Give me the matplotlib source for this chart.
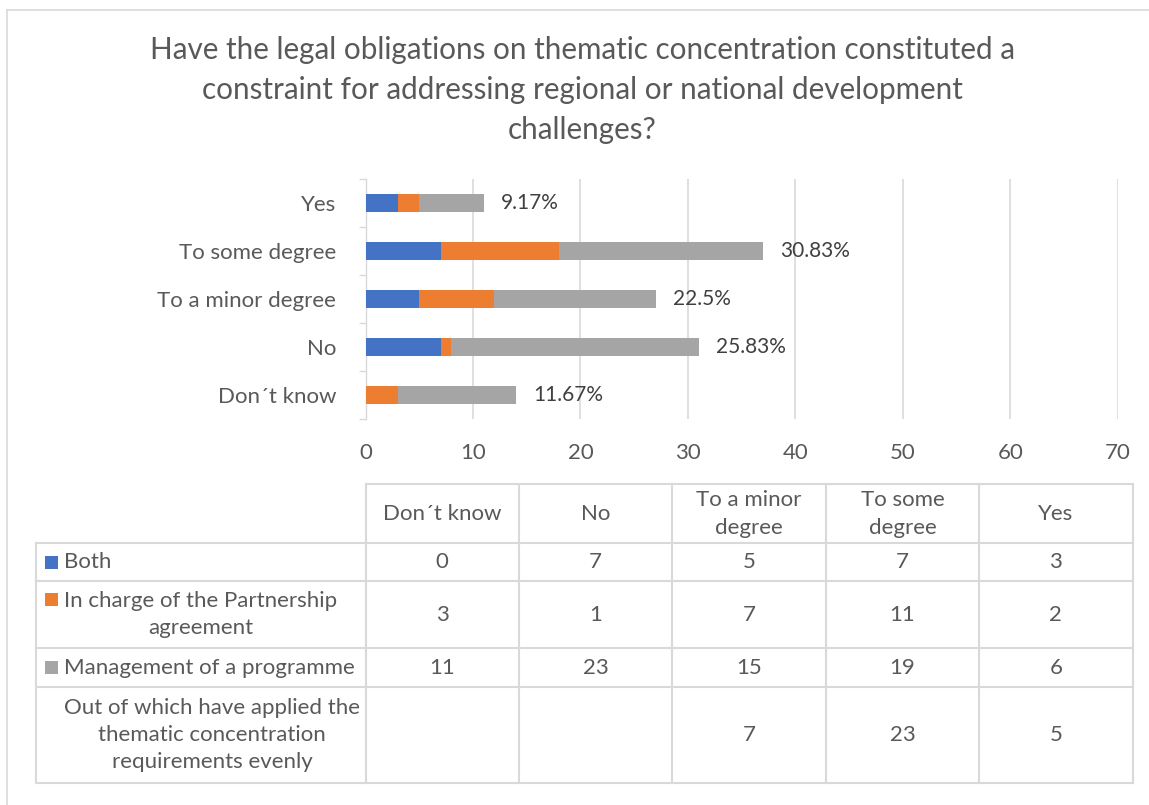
"""stacked bar chart with data table: thematic concentration survey"""

import matplotlib
matplotlib.use('Agg')
import matplotlib.pyplot as plt
from matplotlib.lines import Line2D
from matplotlib.patches import Rectangle

plt.rcParams['font.family'] = ['Lato', 'DejaVu Sans']

# data (bottom to top in the bar chart, left to right in the table)
categories = ['Don´t know', 'No', 'To a minor degree', 'To some degree', 'Yes']
header_labels = ['Don´t know', 'No', 'To a minor\ndegree', 'To some\ndegree', 'Yes']
both = [0, 7, 5, 7, 3]
partnership = [3, 1, 7, 11, 2]
management = [11, 23, 15, 19, 6]
applied_evenly = ['', '', 7, 23, 5]
pct_labels = ['11.67%', '25.83%', '22.5%', '30.83%', '9.17%']

series_names = ['Both', 'In charge of the Partnership\nagreement',
                'Management of a programme']
extra_row = 'Out of which have applied the\nthematic concentration\nrequirements evenly'
colors = ['#4472C4', '#ED7D31', '#A5A5A5']
TEXT = '#595959'
GRID = '#D9D9D9'
FS = 16

W, H = 1149, 805


def fx(px):
    """pixel x to figure fraction"""
    return px / W


def fy(py):
    """pixel y (from top) to figure fraction"""
    return 1 - py / H


fig = plt.figure(figsize=(W / 100, H / 100), dpi=100)
ax = fig.add_axes([fx(365.5), fy(419), fx(1117.7) - fx(365.5), fy(179) - fy(419)])

ypos = list(range(len(categories)))
left = [0] * len(categories)
for vals, color in zip([both, partnership, management], colors):
    ax.barh(ypos, vals, left=left, height=0.39, color=color, zorder=3)
    left = [a + b for a, b in zip(left, vals)]

for y, total, lab in zip(ypos, left, pct_labels):
    ax.annotate(lab, (total, y), xytext=(17, 0), textcoords='offset pixels',
                ha='left', va='center', fontsize=15, color='#404040')

ax.set_xlim(0, 70)
ax.set_ylim(-0.5, len(categories) - 0.5)
ax.set_xticks(range(0, 71, 10))
ax.set_yticks(ypos)
ax.set_yticklabels(categories)
ax.set_yticks([y - 0.5 for y in range(len(categories) + 1)], minor=True)
ax.tick_params(axis='x', length=0, pad=17, labelsize=FS, labelcolor=TEXT)
ax.tick_params(axis='y', which='major', length=0, pad=21, labelsize=FS,
               labelcolor=TEXT)
ax.tick_params(axis='y', which='minor', length=5, width=1, color=GRID)
ax.grid(axis='x', color=GRID, linewidth=1.2, zorder=0)
for side in ['top', 'right', 'bottom']:
    ax.spines[side].set_visible(False)
ax.spines['left'].set_color(GRID)
ax.spines['left'].set_linewidth(1)

# title
fig.text(fx(582), fy(90),
         'Have the legal obligations on thematic concentration constituted a\n'
         'constraint for addressing regional or national development\n'
         'challenges?', ha='center', va='center', fontsize=21.3, color=TEXT,
         linespacing=1.5)

# outer frame
fig.add_artist(Line2D([fx(7), fx(7)], [fy(10), 0], color=GRID, lw=1.2))
fig.add_artist(Line2D([fx(7), 1], [fy(10), fy(10)], color=GRID, lw=1.2))

# data table
col_w = 153.4
x0 = 365.5
x_label = 36
row_edges = [484, 543, 581, 648, 687, 783]
col_edges = [x0 + k * col_w for k in range(len(categories) + 1)]


def hline(y, xa, xb):
    fig.add_artist(Line2D([fx(xa), fx(xb)], [fy(y), fy(y)], color=GRID, lw=1.5))


def vline(x, ya, yb):
    fig.add_artist(Line2D([fx(x), fx(x)], [fy(ya), fy(yb)], color=GRID, lw=1.5))


hline(row_edges[0], col_edges[0], col_edges[-1])
for y in row_edges[1:]:
    hline(y, x_label, col_edges[-1])
for x in col_edges:
    vline(x, row_edges[0], row_edges[-1])
vline(x_label, row_edges[1], row_edges[-1])

for k, lab in enumerate(header_labels):
    fig.text(fx(col_edges[k] + col_w / 2), fy((row_edges[0] + row_edges[1]) / 2),
             lab, ha='center', va='center', fontsize=FS, color=TEXT,
             linespacing=1.5)

rows = [both, partnership, management, applied_evenly]
labels = series_names + [extra_row]
for r, (vals, lab) in enumerate(zip(rows, labels)):
    ytop, ybot = row_edges[r + 1], row_edges[r + 2]
    yc = (ytop + ybot) / 2
    fig.text(fx(64), fy(yc), lab, ha='left', va='center', fontsize=FS,
             color=TEXT, multialignment='center', linespacing=1.45)
    if r < len(colors):
        nlines = lab.count('\n') + 1
        ykey = yc - (nlines - 1) * 15
        fig.add_artist(Rectangle((fx(45), fy(ykey + 6.5)), fx(13), 13 / H,
                                 transform=fig.transFigure,
                                 color=colors[r], lw=0))
    for k, v in enumerate(vals):
        fig.text(fx(col_edges[k] + col_w / 2), fy(yc), str(v), ha='center',
                 va='center', fontsize=FS, color=TEXT)

fig.savefig('out.png', dpi=100)
